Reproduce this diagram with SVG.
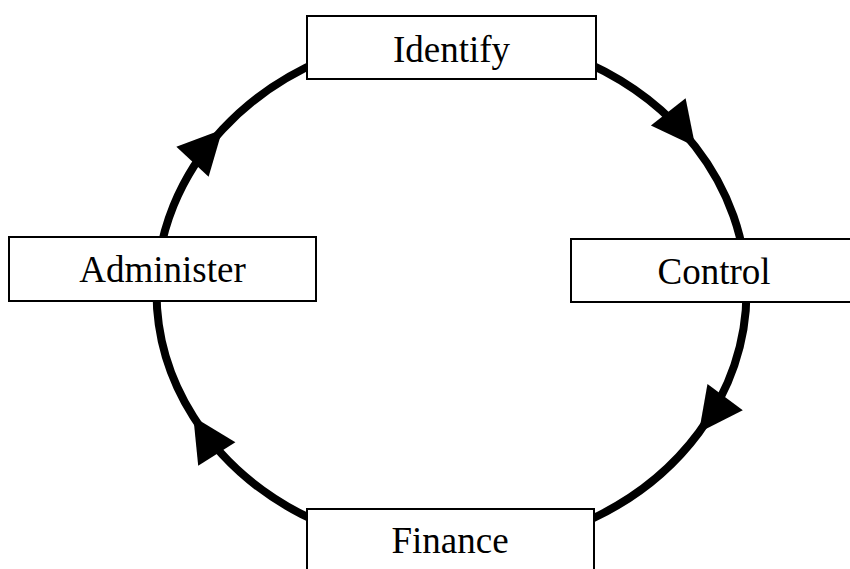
<svg xmlns="http://www.w3.org/2000/svg" width="850" height="569" viewBox="0 0 850 569">
<style>
.box{fill:#fff;stroke:#000;stroke-width:2}
.lbl{font-family:'Liberation Serif','DejaVu Serif',serif;font-size:37px;fill:#000;text-anchor:middle}
.arc{fill:none;stroke:#000;stroke-width:8;marker-mid:url(#tri)}
</style>
<defs>
<marker id="tri" markerUnits="userSpaceOnUse" orient="auto" refX="0" refY="0" markerWidth="1" markerHeight="1" overflow="visible">
<path d="M0,0 L-44,-22 L-44,22 Z" fill="#000"/>
</marker>
</defs>
<rect width="850" height="569" fill="#fff"/>
<g id="connectors">
<path class="arc" d="M451.5,34 A295,258 0 0 1 695.3,146.6 A295,258 0 0 1 746.5,292"/>
<path class="arc" d="M746.5,292 A295,258 0 0 1 698.9,432.5 A295,258 0 0 1 451.5,550"/>
<path class="arc" d="M451.5,550 A295,258 0 0 1 193.3,416.7 A295,258 0 0 1 156.5,292"/>
<path class="arc" d="M156.5,292 A295,258 0 0 1 222.4,129.5 A295,258 0 0 1 451.5,34"/>
</g>
<g id="identify">
<rect class="box" x="307" y="16" width="289" height="63"/>
<text class="lbl" x="451.5" y="62" font-family="Liberation Serif, serif">Identify</text>
</g>
<g id="control">
<rect class="box" x="571" y="239" width="290" height="63"/>
<text class="lbl" x="714" y="284" font-family="Liberation Serif, serif">Control</text>
</g>
<g id="finance">
<rect class="box" x="307" y="509" width="287" height="70"/>
<text class="lbl" x="450" y="553" font-family="Liberation Serif, serif">Finance</text>
</g>
<g id="administer">
<rect class="box" x="9" y="237" width="307" height="64"/>
<text class="lbl" x="162.5" y="282" font-family="Liberation Serif, serif">Administer</text>
</g>
</svg>
